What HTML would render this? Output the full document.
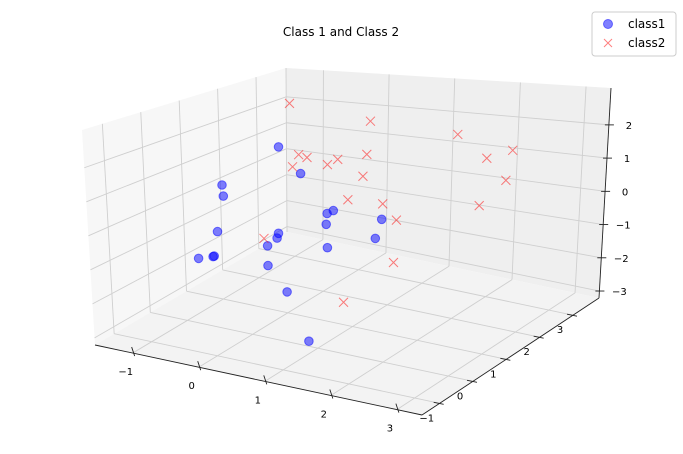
<!DOCTYPE html>
<html><head><meta charset="utf-8"><style>
body{margin:0;background:#fff;width:683px;height:449px;overflow:hidden;font-family:"Liberation Sans","DejaVu Sans",sans-serif}
svg text{font-family:"DejaVu Sans","Liberation Sans",sans-serif}
</style></head><body>
<svg id="chart" width="683" height="449" viewBox="0 0 683 449" xmlns="http://www.w3.org/2000/svg">
<text x="341" y="36" text-anchor="middle" font-size="12" fill="#000">Class 1 and Class 2</text>
<g id="panes"></g>
<g id="grid"></g>
<g id="axes"></g>
<g id="marks"></g>
<g>
<rect x="592" y="12" width="84" height="44" rx="3" fill="#fff" fill-opacity="0.8" stroke="#ccc"/>
<g><circle cx="608" cy="24" r="4.5" fill="#0000ff" fill-opacity="0.5" stroke="#0000ff" stroke-opacity="0.5"/><text x="628" y="28" font-size="12">class1</text></g>
<g><path d="M604,39 l8,8 M612,39 l-8,8" stroke="#ff0000" stroke-opacity="0.5" stroke-width="1"/><text x="628" y="47" font-size="12">class2</text></g>
</g>
</svg>
<script>
const xTicks=[-1,0,1,2,3];
const yTicks=[-1,0,1,2,3];
const zTicks=[-3,-2,-1,0,1,2];
const c1x=[0.177,0.50,-0.685,-0.67,-0.774,-1.077,-0.836,-0.853,0.152,0.13,-0.017,-0.017,0.892,0.986,0.877,0.892,1.714,1.618,0.815,1.40];
const c1y=[0.5,0.5,0.5,0.5,0.5,0.5,0.5,0.5,0.5,0.5,0.5,0.5,0.5,0.5,0.5,0.5,0.5,0.5,-0.5,-1.0];
const c1z=[2.18,1.45,0.81,0.47,-0.67,-1.62,-1.46,-1.48,-0.43,-0.58,-0.86,-1.46,0.37,0.48,0.05,-0.63,0.42,-0.15,-1.39,-2.28];
const c2x=[-0.21,1.0,1.50,-0.082,0.044,-0.176,0.352,0.508,0.947,0.889,1.953,2.344,2.256,1.859,0.66,1.19,1.40,-0.63,1.36,1.40];
const c2y=[1.5,1.5,3,1.5,1.5,1.5,1.5,1.5,1.5,1.5,3,3,3,3,1.5,1.5,1.5,1.5,1.5,0];
const c2z=[3.05,2.70,1.72,1.44,1.38,1.03,1.23,1.43,1.68,1.0,1.07,1.40,0.46,-0.43,0.22,0.24,-0.19,-1.42,-1.47,-1.76];

const XR=[-1.57,3.38],YR=[-1.53,3.78],ZR=[-3.21,3.11];
const PB={L:[95,345],F:[422,415],R:[599,298],B:[287,232]};
const PT={L:[82,130],F:[422,162],R:[611,88],B:[286,68]};
function bil(P,u,v){const w=[(1-u)*(1-v),u*(1-v),u*v,(1-u)*v],k=['L','F','R','B'];let X=0,Y=0;for(let i=0;i<4;i++){X+=w[i]*P[k[i]][0];Y+=w[i]*P[k[i]][1];}return[X,Y];}
function proj(x,y,z){const u=(x-XR[0])/(XR[1]-XR[0]),v=(y-YR[0])/(YR[1]-YR[0]),w=(z-ZR[0])/(ZR[1]-ZR[0]);const b=bil(PB,u,v),t=bil(PT,u,v);return[b[0]+w*(t[0]-b[0]),b[1]+w*(t[1]-b[1])];}
const NS='http://www.w3.org/2000/svg';
function mk(tag,attrs,parent){const e=document.createElementNS(NS,tag);for(const k in attrs)e.setAttribute(k,attrs[k]);parent.appendChild(e);return e;}
function poly(pts){return pts.map(p=>p[0].toFixed(1)+','+p[1].toFixed(1)).join(' ');}
const panes=document.getElementById('panes'),grid=document.getElementById('grid'),axes=document.getElementById('axes'),marks=document.getElementById('marks');
let e;
e=mk('polygon',{points:poly([proj(XR[0],YR[0],ZR[0]),proj(XR[0],YR[1],ZR[0]),proj(XR[0],YR[1],ZR[1]),proj(XR[0],YR[0],ZR[1])]),fill:'#f7f7f7'},panes);


e=mk('polygon',{points:poly([proj(XR[0],YR[1],ZR[0]),proj(XR[1],YR[1],ZR[0]),proj(XR[1],YR[1],ZR[1]),proj(XR[0],YR[1],ZR[1])]),fill:'#efefef'},panes);


e=mk('polygon',{points:poly([proj(XR[0],YR[0],ZR[0]),proj(XR[1],YR[0],ZR[0]),proj(XR[1],YR[1],ZR[0]),proj(XR[0],YR[1],ZR[0])]),fill:'#f3f3f3'},panes);


function gl(a,b){const l=mk('line',{x1:a[0],y1:a[1],x2:b[0],y2:b[1],stroke:'#cfcfcf','stroke-width':0.9},grid);

}
xTicks.forEach(t=>{gl(proj(t,YR[0],ZR[0]),proj(t,YR[1],ZR[0]));gl(proj(t,YR[1],ZR[0]),proj(t,YR[1],ZR[1]));});
yTicks.forEach(t=>{gl(proj(XR[1],t,ZR[0]),proj(XR[0],t,ZR[0]));gl(proj(XR[0],t,ZR[0]),proj(XR[0],t,ZR[1]));});
zTicks.forEach(t=>{gl(proj(XR[0],YR[0],t),proj(XR[0],YR[1],t));gl(proj(XR[0],YR[1],t),proj(XR[1],YR[1],t));});
gl(proj(XR[0],YR[1],ZR[0]),proj(XR[0],YR[1],ZR[1]));
function al(a,b,n){const l=mk('line',{x1:a[0],y1:a[1],x2:b[0],y2:b[1],stroke:'#222','stroke-width':0.9},axes);

}
al(proj(XR[0],YR[0],ZR[0]),proj(XR[1],YR[0],ZR[0]),'x-axis-line');
al(proj(XR[1],YR[0],ZR[0]),proj(XR[1],YR[1],ZR[0]),'y-axis-line');
al(proj(XR[1],YR[1],ZR[0]),proj(XR[1],YR[1],ZR[1]),'z-axis-line');
function lbl(p,s,n){const t=mk('text',{x:p[0].toFixed(1),y:p[1].toFixed(1),'font-size':10,'text-anchor':'middle',fill:'#000'},axes);t.textContent=s;

}
xTicks.forEach(t=>{const p=proj(t,YR[0],ZR[0]);al([p[0]-1,p[1]-6],[p[0]+2,p[1]+3],'x-tick');lbl([p[0]-7,p[1]+22],t<0?'\u2212'+(-t):String(t),'x-tick-label');});
yTicks.forEach(t=>{const p=proj(XR[1],t,ZR[0]);al([p[0]-6,p[1]-1],[p[0]+4,p[1]+1],'y-tick');lbl([p[0]-13,p[1]+18],t<0?'\u2212'+(-t):String(t),'y-tick-label');});
zTicks.forEach(t=>{const p=proj(XR[1],YR[1],t);al([p[0]-4,p[1]],[p[0]+5,p[1]],'z-tick');lbl([p[0]+20,p[1]+4],t<0?'\u2212'+(-t):String(t),'z-tick-label');});
c1x.forEach((x,i)=>{const p=proj(x,c1y[i],c1z[i]);const c=mk('circle',{cx:p[0].toFixed(1),cy:p[1].toFixed(1),r:4.3,fill:'#0000ff','fill-opacity':0.5,stroke:'#0000ff','stroke-opacity':0.5},marks);

});
c2x.forEach((x,i)=>{const p=proj(x,c2y[i],c2z[i]);const c=mk('path',{d:`M${p[0]-4.5},${p[1]-4.5} l9,9 M${p[0]+4.5},${p[1]-4.5} l-9,9`,stroke:'#ff0000','stroke-opacity':0.5,'stroke-width':1,fill:'none'},marks);

});
</script>
</body></html>
